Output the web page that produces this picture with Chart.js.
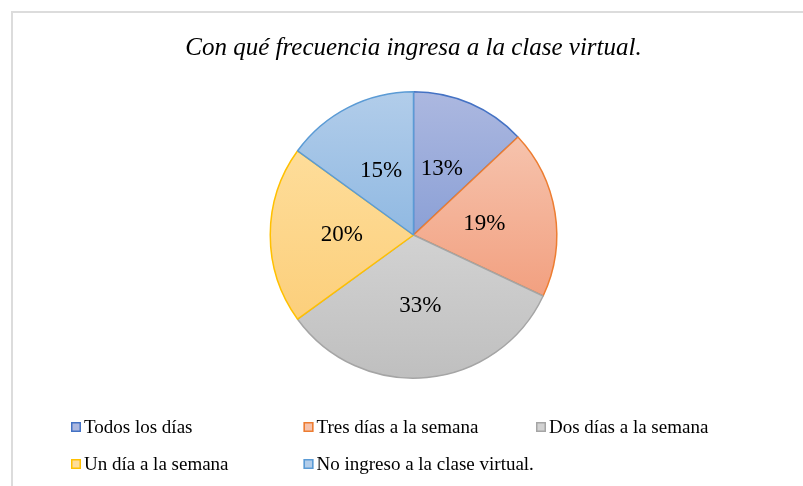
<!DOCTYPE html>
<html>
<head>
<meta charset="utf-8">
<script src="https://cdn.jsdelivr.net/npm/chart.js@4/dist/chart.umd.min.js"></script>
<style>
  body { margin: 0; background: #fff; }
  #wrap { position: relative; width: 803px; height: 486px; overflow: hidden; }
  #marco { position: absolute; left: 11px; top: 11px; width: 800px; height: 480px;
           border-top: 2px solid #dcdcdc; border-left: 2px solid #dcdcdc; }
  canvas { position: absolute; left: 0; top: 0; }
</style>
</head>
<body>
<div id="wrap">
  <div id="marco"></div>
  <canvas id="grafico" width="803" height="486"></canvas>
</div>
<script>
const categorias = ["Todos los días", "Tres días a la semana", "Dos días a la semana", "Un día a la semana", "No ingreso a la clase virtual."];
const porcentajes = [13, 19, 33, 20, 15];
const colClaro = ["#acb8e0", "#f6c3ad", "#d2d2d2", "#fedd9a", "#b2cdea"];
const colOscuro = ["#8ba0d6", "#f2a080", "#bfbfbf", "#fccf7b", "#90b9e2"];
const bordes = ["#4472c4", "#ed7d31", "#a5a5a5", "#ffc000", "#5b9bd5"];
const titulo = "Con qué frecuencia ingresa a la clase virtual.";

// degradado vertical de cada porcion segun su caja
function relleno(c) {
  const chart = c.chart;
  const area = chart.chartArea;
  const i = c.dataIndex;
  if (!area || i === undefined) return colClaro[i] || "#ccc";
  const cx = (area.left + area.right) / 2, cy = (area.top + area.bottom) / 2;
  const r = Math.min(area.right - area.left, area.bottom - area.top) / 2;
  const total = porcentajes.reduce((a, b) => a + b, 0);
  let acum = 0;
  for (let k = 0; k < i; k++) acum += porcentajes[k];
  const a0 = -Math.PI / 2 + acum / total * 2 * Math.PI;
  const a1 = a0 + porcentajes[i] / total * 2 * Math.PI;
  let yMin = cy, yMax = cy;
  for (let t = 0; t <= 40; t++) {
    const y = cy + r * Math.sin(a0 + (a1 - a0) * t / 40);
    yMin = Math.min(yMin, y); yMax = Math.max(yMax, y);
  }
  const g = chart.ctx.createLinearGradient(0, yMin, 0, yMax);
  g.addColorStop(0, colClaro[i]);
  g.addColorStop(1, colOscuro[i]);
  return g;
}

const etiquetas = {
  id: "etiquetas",
  afterDatasetsDraw(chart) {
    const ctx = chart.ctx;
    const meta = chart.getDatasetMeta(0);
    ctx.save();
    ctx.font = "23px 'Liberation Serif'";
    ctx.fillStyle = "#000";
    ctx.textAlign = "center";
    ctx.textBaseline = "middle";
    meta.data.forEach((arc, i) => {
      const p = arc.tooltipPosition();
      ctx.fillText(porcentajes[i] + "%", p.x, p.y);
    });
    ctx.restore();
  }
};

const leyenda = {
  id: "leyenda",
  afterDraw(chart) {
    const ctx = chart.ctx;
    ctx.save();
    ctx.font = "19px 'Liberation Serif'";
    ctx.textBaseline = "middle";
    ctx.textAlign = "left";
    categorias.forEach((cat, i) => {
      const x = 71 + (i % 3) * 232.5;
      const y = 427 + Math.floor(i / 3) * 37;
      ctx.fillStyle = colClaro[i];
      ctx.fillRect(x, y - 5, 10, 10);
      ctx.strokeStyle = bordes[i];
      ctx.lineWidth = 1.5;
      ctx.strokeRect(x + 0.75, y - 4.25, 8.5, 8.5);
      ctx.fillStyle = "#000";
      ctx.fillText(cat, x + 13, y + 1);
    });
    ctx.restore();
  }
};

new Chart(document.getElementById("grafico"), {
  type: "pie",
  data: {
    labels: categorias,
    datasets: [{
      data: porcentajes,
      backgroundColor: relleno,
      borderColor: bordes,
      borderWidth: 1.5,
      hoverOffset: 0
    }]
  },
  options: {
    responsive: false,
    animation: false,
    layout: { padding: { top: 20, left: 24, right: 0, bottom: 107 } },
    plugins: {
      legend: { display: false },
      tooltip: { enabled: false },
      title: {
        display: true,
        text: titulo,
        color: "#000",
        font: { family: "'Liberation Serif'", size: 25, style: "italic", weight: "normal" },
        padding: { top: 13, bottom: 28 }
      }
    }
  },
  plugins: [etiquetas, leyenda]
});
</script>
</body>
</html>
